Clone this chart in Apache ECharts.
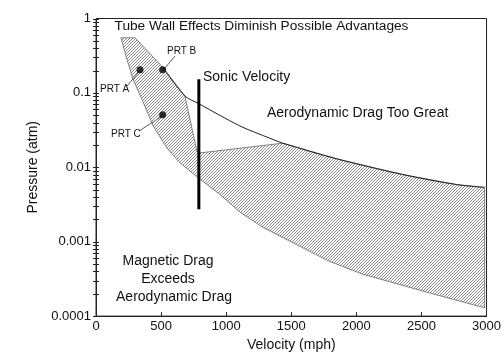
<!DOCTYPE html>
<html>
<head>
<meta charset="utf-8">
<script src="https://cdn.jsdelivr.net/npm/echarts@6/dist/echarts.min.js"></script>
<style>
html,body{margin:0;padding:0;background:#fff;}
#chart{width:504px;height:357px;}
</style>
</head>
<body>
<div id="chart"></div>
<script>
// ---- data ----
const xTickLabels = ['0', '500', '1000', '1500', '2000', '2500', '3000'];
const yTickLabels = ['0.0001', '0.001', '0.01', '0.1', '1'];
const minorMultipliers = [2, 3, 4, 5, 6, 7, 8, 9];

// shaded feasible region (outline, clockwise from the top-left tip)
const regionVelocity = [192, 300, 514, 683, 775, 798, 1435, 1849, 2356, 2770, 2985,
                        2985, 2563, 2049, 1795, 1542, 1282, 1105, 951, 783, 645, 545, 437, 361, 284, 238];
const regionPressure = [0.55, 0.55, 0.22, 0.091, 0.0165, 0.0156, 0.0211, 0.013, 0.008, 0.00586, 0.00537,
                        0.000129, 0.000205, 0.000366, 0.000543, 0.00091, 0.00156, 0.0025, 0.00432, 0.00726, 0.0115, 0.0181, 0.0366, 0.076, 0.153, 0.282];

// aerodynamic drag limit curve
const dragVelocity = [514, 683, 787, 1105, 1335, 1435, 1849, 2356, 2770, 2985];
const dragPressure = [0.22, 0.091, 0.072, 0.036, 0.0246, 0.0211, 0.013, 0.008, 0.00586, 0.00537];

// sonic velocity marker
const sonicVelocity = [790, 790];
const sonicPressure = [0.153, 0.00274];

// PRT design points
const prtNames = ['PRT A', 'PRT B', 'PRT C'];
const prtVelocity = [338, 512, 512];
const prtPressure = [0.205, 0.205, 0.051];

// ---- hatch pattern ----
function makeHatch() {
  const c = document.createElement('canvas');
  const n = 3;
  c.width = n; c.height = n;
  const ctx = c.getContext('2d');
  ctx.fillStyle = '#8a8a8a';
  for (let i = 0; i < n; i++) ctx.fillRect(i, n - 1 - i, 1, 1);
  return c;
}
const hatch = { image: makeHatch(), repeat: 'repeat' };

// y tick marks (decades + log minor ticks)
const yTicks = [];
for (let d = 0; d < yTickLabels.length; d++) {
  const base = parseFloat(yTickLabels[d]);
  yTicks.push([0, base]);
  if (d < yTickLabels.length - 1) minorMultipliers.forEach(m => yTicks.push([0, base * m]));
}

const FONT = 'Liberation Sans, Arial, Helvetica, sans-serif';
const chart = echarts.init(document.getElementById('chart'), null, { renderer: 'canvas' });

chart.setOption({
  animation: false,
  backgroundColor: '#fff',
  textStyle: { fontFamily: FONT },
  grid: { left: 96, right: 17, top: 18.5, bottom: 36.5, show: true, borderColor: '#222', borderWidth: 1, backgroundColor: 'transparent' },
  xAxis: {
    type: 'value', min: 0, max: 3000, interval: 500,
    name: 'Velocity (mph)', nameLocation: 'middle', nameGap: 19,
    nameTextStyle: { fontSize: 14, color: '#111', fontFamily: FONT },
    axisLine: { lineStyle: { color: '#222', width: 1 } },
    axisTick: { inside: true, length: 4, lineStyle: { color: '#222' } },
    axisLabel: { fontSize: 13, color: '#111', margin: 4, fontFamily: FONT,
      formatter: (v) => xTickLabels[Math.round(v / 500)] },
    splitLine: { show: false }
  },
  yAxis: {
    type: 'log', logBase: 10, min: 0.0001, max: 1,
    name: 'Pressure (atm)', nameLocation: 'middle', nameGap: 56,
    nameTextStyle: { fontSize: 14, color: '#111', fontFamily: FONT },
    axisLine: { lineStyle: { color: '#222', width: 1 } },
    axisTick: { show: false },
    axisLabel: { fontSize: 13, color: '#111', margin: 5, fontFamily: FONT,
      formatter: (v) => yTickLabels[Math.round(Math.log10(v)) + 4] },
    splitLine: { show: false }
  },
  graphic: [
    { type: 'text', x: 261.5, y: 26, style: { text: 'Tube Wall Effects Diminish Possible Advantages', font: '13.7px ' + FONT, fill: '#111', textAlign: 'center', textVerticalAlign: 'middle' } },
    { type: 'text', x: 203, y: 77, style: { text: 'Sonic Velocity', font: '14px ' + FONT, fill: '#111', textAlign: 'left', textVerticalAlign: 'middle' } },
    { type: 'text', x: 267, y: 113, style: { text: 'Aerodynamic Drag Too Great', font: '14px ' + FONT, fill: '#111', textAlign: 'left', textVerticalAlign: 'middle' } },
    { type: 'text', x: 168, y: 261, style: { text: 'Magnetic Drag', font: '14px ' + FONT, fill: '#111', textAlign: 'center', textVerticalAlign: 'middle' } },
    { type: 'text', x: 168, y: 279, style: { text: 'Exceeds', font: '14px ' + FONT, fill: '#111', textAlign: 'center', textVerticalAlign: 'middle' } },
    { type: 'text', x: 174, y: 297, style: { text: 'Aerodynamic Drag', font: '14px ' + FONT, fill: '#111', textAlign: 'center', textVerticalAlign: 'middle' } },
    { type: 'text', x: 100, y: 89, style: { text: prtNames[0], font: '10px ' + FONT, fill: '#111', textAlign: 'left', textVerticalAlign: 'middle' } },
    { type: 'text', x: 167, y: 51, style: { text: prtNames[1], font: '10px ' + FONT, fill: '#111', textAlign: 'left', textVerticalAlign: 'middle' } },
    { type: 'text', x: 111, y: 134, style: { text: prtNames[2], font: '10px ' + FONT, fill: '#111', textAlign: 'left', textVerticalAlign: 'middle' } },
    { type: 'line', shape: { x1: 127, y1: 86, x2: 143, y2: 67 }, style: { stroke: '#333', lineWidth: 0.8 } },
    { type: 'line', shape: { x1: 160, y1: 74, x2: 175, y2: 56 }, style: { stroke: '#333', lineWidth: 0.8 } },
    { type: 'line', shape: { x1: 139, y1: 131, x2: 164, y2: 115 }, style: { stroke: '#333', lineWidth: 0.8 } }
  ],
  series: [
    {
      type: 'custom', name: 'region', silent: true, z: 1,
      data: [[regionVelocity[0], regionPressure[0]]],
      renderItem: function (params, api) {
        const pts = regionVelocity.map((v, i) => api.coord([v, regionPressure[i]]));
        return { type: 'polygon', shape: { points: pts }, style: { fill: hatch, stroke: '#666', lineWidth: 0.8 } };
      }
    },
    {
      type: 'custom', name: 'yTicks', silent: true, z: 10, clip: false,
      data: yTicks,
      renderItem: function (params, api) {
        const p = api.coord([api.value(0), api.value(1)]);
        const y = Math.round(p[1]) + 0.5;
        return { type: 'line', shape: { x1: p[0] - 3, y1: y, x2: p[0] + 3, y2: y }, style: { stroke: '#222', lineWidth: 1 } };
      }
    },
    {
      type: 'line', name: 'drag', z: 2, showSymbol: false, symbol: 'none', smooth: 0.3,
      data: dragVelocity.map((v, i) => [v, dragPressure[i]]),
      lineStyle: { color: '#222', width: 1 }
    },
    {
      type: 'line', name: 'sonic', z: 4, showSymbol: false, symbol: 'none',
      data: sonicVelocity.map((v, i) => [v, sonicPressure[i]]),
      lineStyle: { color: '#000', width: 3 }
    },
    {
      type: 'scatter', name: 'PRT', z: 5, symbol: 'circle', symbolSize: 7,
      data: prtVelocity.map((v, i) => [v, prtPressure[i]]),
      itemStyle: { color: '#000' }
    }
  ]
});
</script>
</body>
</html>
